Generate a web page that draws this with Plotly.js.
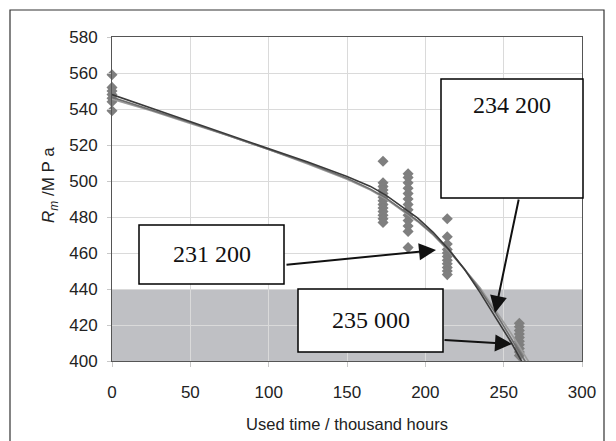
<!DOCTYPE html>
<html>
<head>
<meta charset="utf-8">
<script src="https://cdn.plot.ly/plotly-3.0.1.min.js"></script>
<style>html,body{margin:0;padding:0;background:#fff;}#chart{width:616px;height:441px;}</style>
</head>
<body>
<div id="chart"></div>
<script>
// Measured data (Rm, MPa) at used time (thousand hours)
const time0 = 0,   rm0 = [559, 552, 550, 548, 546, 544, 539];
const time1 = 173, rm1 = [511, 499, 497, 495, 493, 491, 489, 487, 485, 483, 481, 479, 477];
const time2 = 189, rm2 = [504, 502, 499, 496, 493, 490, 487, 484, 481, 478, 475, 472, 463];
const time3 = 214, rm3 = [479, 469, 465, 462, 460, 458, 456, 454, 452, 450, 448];
const time4 = 260, rm4 = [421, 419, 417, 415, 413, 411, 409, 407, 405, 403];

// Fitted curves
const fitA_x = [0, 25, 50, 75, 100, 125, 150, 165, 175, 185, 195, 205, 215, 225, 235, 245, 255, 262];
const fitA_y = [548, 540.5, 533, 525.5, 518, 510.5, 502.5, 497, 492, 486, 479.5, 471.5, 462, 451, 438, 424, 410, 399];
const fitB_x = [0, 25, 50, 75, 100, 125, 150, 165, 175, 185, 195, 205, 215, 225, 235, 245, 255, 265];
const fitB_y = [546.5, 539.5, 532.5, 525, 517.5, 510, 501.5, 495.5, 490.5, 484.5, 478, 470.5, 461.5, 451, 439.5, 426.5, 412.5, 398];
const fitC_x = [0, 25, 50, 75, 100, 125, 150, 165, 175, 185, 195, 205, 215, 225, 235, 245, 255, 265, 269];
const fitC_y = [545.5, 539, 532, 525, 517.5, 509.5, 501, 495, 490, 484, 477.5, 470, 461, 451, 440.5, 428, 415, 401, 396];

const xTicks = [0, 50, 100, 150, 200, 250, 300];
const yTicks = [400, 420, 440, 460, 480, 500, 520, 540, 560, 580];
const labels = ["231 200", "234 200", "235 000"];
const limitLow = 400, limitHigh = 440;

const ptsX = [], ptsY = [];
[[time0, rm0], [time1, rm1], [time2, rm2], [time3, rm3], [time4, rm4]].forEach(([t, arr]) => {
  arr.forEach(v => { ptsX.push(t); ptsY.push(v); });
});

// plot-area pixel helpers (plot area: x 112..582, y 37..361)
const L = 112, R = 582, T = 37, B = 361;
const px = x => (x - L) / (R - L);
const py = y => (B - y) / (B - T);
const dx = p => (p - L) / (R - L) * 300;
const dy = p => 580 - (p - T) / (B - T) * 180;

const traces = [
  {x: ptsX, y: ptsY, mode: 'markers', type: 'scatter', cliponaxis: false,
   marker: {symbol: 'diamond', size: 8.5, color: '#7f7f7f'}, hoverinfo: 'skip'},
  {x: fitC_x, y: fitC_y, mode: 'lines', type: 'scatter', line: {color: '#9c9c9c', width: 1.6}},
  {x: fitB_x, y: fitB_y, mode: 'lines', type: 'scatter', line: {color: '#6e6e6e', width: 1.6}},
  {x: fitA_x, y: fitA_y, mode: 'lines', type: 'scatter', line: {color: '#3a3a3a', width: 1.6}}
];

function box(x0, y0, x1, y1) {
  return {type: 'rect', xref: 'paper', yref: 'paper', x0: px(x0), x1: px(x1), y0: py(y1), y1: py(y0),
          line: {color: '#000', width: 1.5}, fillcolor: '#fff', layer: 'above'};
}
const textFont = {family: 'Liberation Serif, Times New Roman, serif', size: 24, color: '#111'};
const sansFont = {family: 'Liberation Sans, Arial, sans-serif', size: 17, color: '#222'};

const layout = {
  width: 616, height: 441,
  margin: {l: L, r: 616 - R, t: T, b: 441 - B},
  paper_bgcolor: '#fff', plot_bgcolor: '#fff',
  showlegend: false,
  xaxis: {range: [0, 300], tickvals: xTicks, ticktext: xTicks.map(String),
          showgrid: true, gridcolor: '#dadada', gridwidth: 1, zeroline: false,
          showline: true, linecolor: '#555', linewidth: 1, mirror: true,
          ticks: 'outside', ticklen: 5, tickcolor: '#c8c8c8', ticklabelstandoff: 11,
          tickfont: sansFont,
          title: {text: 'Used time / thousand hours', standoff: 17,
                  font: {family: 'Liberation Sans, Arial, sans-serif', size: 16.5, color: '#222'}}},
  yaxis: {range: [400, 580], tickvals: yTicks, ticktext: yTicks.map(String),
          showgrid: true, gridcolor: '#dadada', gridwidth: 1, zeroline: false,
          showline: true, linecolor: '#555', linewidth: 1, mirror: true,
          ticks: 'outside', ticklen: 4, tickcolor: '#c8c8c8', ticklabelstandoff: 6,
          tickfont: sansFont},
  shapes: [
    {type: 'rect', xref: 'x', yref: 'y', x0: 0, x1: 300, y0: limitLow, y1: limitHigh,
     fillcolor: '#bfc0c4', line: {width: 0}, layer: 'below'},
    {type: 'rect', xref: 'paper', yref: 'paper', x0: px(10), x1: px(604), y0: py(450), y1: py(10),
     line: {color: '#333', width: 1.2}, fillcolor: 'rgba(0,0,0,0)', layer: 'above'},
    box(139, 225, 284, 284),
    box(441, 79, 583, 198),
    box(298, 289, 443, 352)
  ],
  annotations: [
    {xref: 'paper', yref: 'paper', x: px(50), y: py(185), text: '<i>R</i><i><sub>m</sub></i> /M P a', textangle: -90,
     showarrow: false, font: {family: 'Liberation Sans, Arial, sans-serif', size: 17, color: '#222'}, xanchor: 'center', yanchor: 'middle'},
    {xref: 'paper', yref: 'paper', x: px(211.5), y: py(254), text: labels[0], showarrow: false, font: textFont, xanchor: 'center', yanchor: 'middle'},
    {xref: 'paper', yref: 'paper', x: px(512), y: py(105), text: labels[1], showarrow: false, font: textFont, xanchor: 'center', yanchor: 'middle'},
    {xref: 'paper', yref: 'paper', x: px(370.5), y: py(320), text: labels[2], showarrow: false, font: textFont, xanchor: 'center', yanchor: 'middle'},
    {x: dx(436), y: dy(250), ax: 285 - 436, ay: 265 - 250, text: '', showarrow: true, arrowhead: 2, arrowsize: 1.7, arrowwidth: 2, arrowcolor: '#111'},
    {x: dx(495), y: dy(313), ax: 519 - 495, ay: 198 - 313, text: '', showarrow: true, arrowhead: 2, arrowsize: 1.7, arrowwidth: 2, arrowcolor: '#111'},
    {x: dx(512), y: dy(344), ax: 443 - 512, ay: 340 - 344, text: '', showarrow: true, arrowhead: 2, arrowsize: 1.7, arrowwidth: 2, arrowcolor: '#111'}
  ]
};

Plotly.newPlot('chart', traces, layout, {staticPlot: true, displayModeBar: false});
</script>
</body>
</html>
